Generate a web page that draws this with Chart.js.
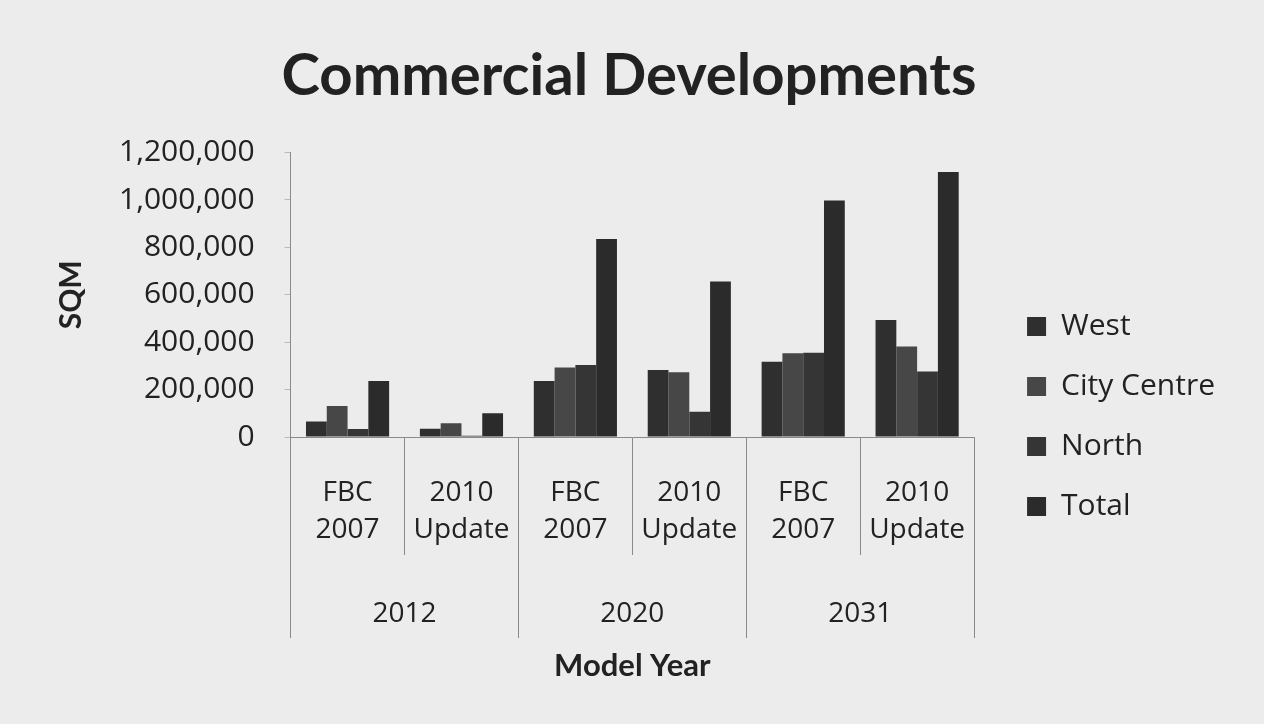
<!DOCTYPE html>
<html>
<head>
<meta charset="utf-8">
<script src="https://cdn.jsdelivr.net/npm/chart.js@4.4.1/dist/chart.umd.min.js"></script>
<style>
  html, body { margin: 0; padding: 0; background: #ececec; }
  #wrap { width: 1264px; height: 724px; }
</style>
</head>
<body>
<div id="wrap"><canvas id="myChart" width="1264" height="724"></canvas></div>
<script>
// sub categories (scenario) and the model year groups under them
const scenarios = [['FBC', '2007'], ['2010', 'Update'], ['FBC', '2007'], ['2010', 'Update'], ['FBC', '2007'], ['2010', 'Update']];
const modelYears = ['2012', '2020', '2031'];

// SQM values
const west = [65000, 35000, 236000, 283000, 318000, 494000];
const cityCentre = [131000, 58000, 293000, 273000, 353000, 382000];
const north = [34000, 5000, 304000, 107000, 356000, 276000];
const total = [236000, 100000, 835000, 656000, 998000, 1118000];

const yTicksMax = 1200000;
const yTicksStep = 200000;

const bodyFont = 'Open Sans';
const titleFont = 'Lato';
const textColor = '#222';
const lineColor = '#8a8a8a';

document.addEventListener("DOMContentLoaded", function() {
    const ctx = document.getElementById('myChart').getContext('2d');
    const myChart = new Chart(ctx, {
        type: 'bar',
        data: {
            labels: scenarios,
            datasets: [
                { label: 'West', data: west, backgroundColor: '#2f2f2f' },
                { label: 'City Centre', data: cityCentre, backgroundColor: '#474747' },
                { label: 'North', data: north, backgroundColor: '#353535' },
                { label: 'Total', data: total, backgroundColor: '#2b2b2b' }
            ]
        },
        options: {
            responsive: false,
            animation: false,
            layout: {
                padding: { left: 33, right: 39, top: 0, bottom: 39 }
            },
            datasets: {
                bar: { barPercentage: 1.0, categoryPercentage: 0.73 }
            },
            scales: {
                y: {
                    min: 0,
                    max: yTicksMax,
                    ticks: {
                        stepSize: yTicksStep,
                        color: textColor,
                        font: { family: bodyFont, size: 30 },
                        padding: 30,
                        callback: v => v.toLocaleString('en-US')
                    },
                    grid: { drawOnChartArea: false, tickLength: 6, color: '#bbb' },
                    border: { display: true, color: lineColor },
                    title: {
                        display: true,
                        text: 'SQM',
                        color: textColor,
                        font: { family: titleFont, size: 30, weight: 'bold' },
                        padding: { top: 20, bottom: 0 }
                    }
                },
                // hidden axis, only keeps the gap between plot and legend
                gap: {
                    type: 'linear',
                    position: 'right',
                    display: false,
                    afterFit: scale => { scale.width = 23; }
                },
                x: {
                    weight: 0,
                    ticks: {
                        color: textColor,
                        font: { family: bodyFont, size: 28, lineHeight: 1.3 },
                        padding: -80,
                        maxRotation: 0,
                        autoSkip: false
                    },
                    grid: { offset: true, drawOnChartArea: false, tickLength: 118, color: lineColor },
                    border: { display: true, color: lineColor },
                    afterFit: scale => { scale.height = 111; }
                },
                x2: {
                    type: 'category',
                    position: 'bottom',
                    weight: 1,
                    labels: modelYears,
                    ticks: {
                        color: textColor,
                        font: { family: bodyFont, size: 28 },
                        padding: -41,
                        maxRotation: 0
                    },
                    grid: { offset: true, drawOnChartArea: false, tickLength: 90, color: lineColor },
                    border: { display: false },
                    title: {
                        display: true,
                        text: 'Model Year',
                        color: textColor,
                        font: { family: titleFont, size: 31, weight: 'bold' },
                        padding: { top: 18, bottom: 0 }
                    },
                    afterFit: scale => { scale.height = 137; }
                }
            },
            plugins: {
                title: {
                    display: true,
                    text: 'Commercial Developments',
                    color: textColor,
                    font: { family: titleFont, size: 58, weight: 'bold' },
                    padding: { top: 41, bottom: 42 }
                },
                legend: {
                    position: 'right',
                    title: {
                        display: true,
                        text: ' ',
                        font: { size: 10 },
                        padding: { top: 68, bottom: 68 }
                    },
                    labels: {
                        color: textColor,
                        font: { family: bodyFont, size: 30 },
                        boxWidth: 19,
                        boxHeight: 19,
                        padding: 30
                    }
                },
                tooltip: { enabled: false }
            }
        }
    });
});
</script>
</body>
</html>
